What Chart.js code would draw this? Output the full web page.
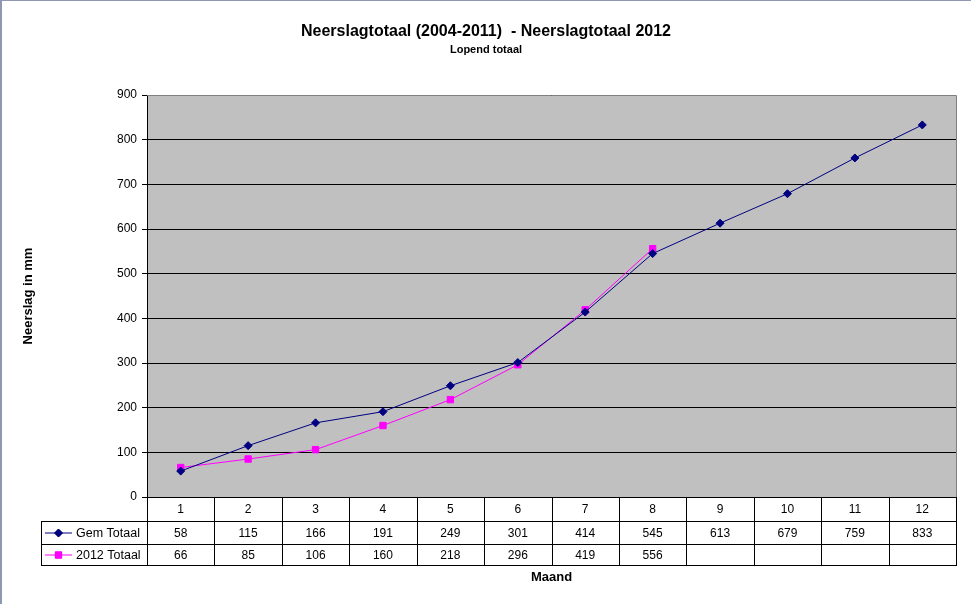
<!DOCTYPE html>
<html>
<head>
<meta charset="utf-8">
<script src="https://cdn.jsdelivr.net/npm/chart.js@4/dist/chart.umd.min.js"></script>
<style>
  html, body { margin: 0; padding: 0; background: #fff; }
  #wrap { width: 971px; height: 604px; position: relative; }
</style>
</head>
<body>
<div id="wrap"><canvas id="chart" width="971" height="604"></canvas></div>
<script>
// Gegevens
const maanden = ['1', '2', '3', '4', '5', '6', '7', '8', '9', '10', '11', '12'];
const gemTotaal = [58, 115, 166, 191, 249, 301, 414, 545, 613, 679, 759, 833];
const totaal2012 = [66, 85, 106, 160, 218, 296, 419, 556, null, null, null, null];
const reeksNamen = ['Gem Totaal', '2012 Totaal'];
const titel = 'Neerslagtotaal (2004-2011)  - Neerslagtotaal 2012';
const subtitel = 'Lopend totaal';
const yTitel = 'Neerslag in mm';
const xTitel = 'Maand';

const FONT = "'Liberation Sans', Arial, sans-serif";
const NAVY = '#000080';
const MAGENTA = '#FF00FF';

// Plugin voor achtergrond, titels en de datatabel
const excelLook = {
    id: 'excelLook',
    beforeDraw(chart) {
        const ctx = chart.ctx;
        const a = chart.chartArea;
        ctx.save();
        ctx.fillStyle = '#ffffff';
        ctx.fillRect(0, 0, chart.width, chart.height);
        // rand links en boven
        ctx.fillStyle = '#8E98B2';
        ctx.fillRect(0, 0, 2, chart.height);
        ctx.fillRect(0, 0, chart.width, 1);
        // grijs tekengebied
        ctx.fillStyle = '#C0C0C0';
        ctx.fillRect(a.left, a.top, a.right - a.left, a.bottom - a.top);
        ctx.restore();
    },
    afterDraw(chart) {
        const ctx = chart.ctx;
        const a = chart.chartArea;
        const x = chart.scales.x;
        ctx.save();

        // rand tekengebied boven en rechts
        ctx.strokeStyle = '#808080';
        ctx.lineWidth = 1;
        ctx.beginPath();
        ctx.moveTo(a.left, a.top + 0.5);
        ctx.lineTo(a.right + 0.5, a.top + 0.5);
        ctx.lineTo(a.right + 0.5, a.bottom);
        ctx.stroke();

        // titels
        ctx.fillStyle = '#000';
        ctx.textAlign = 'center';
        ctx.textBaseline = 'middle';
        ctx.font = 'bold 16px ' + FONT;
        ctx.fillText(titel, 486, 32);
        ctx.font = 'bold 11px ' + FONT;
        ctx.fillText(subtitel, 486, 50);
        ctx.font = 'bold 13px ' + FONT;
        ctx.fillText(xTitel, (a.left + a.right) / 2, 577);
        ctx.save();
        ctx.translate(28, (a.top + a.bottom) / 2);
        ctx.rotate(-Math.PI / 2);
        ctx.fillText(yTitel, 0, 0);
        ctx.restore();

        // datatabel
        const colW = x.getPixelForValue(1) - x.getPixelForValue(0);
        const rows = [a.bottom, 521, 544, 565];
        const legendLeft = 41;
        ctx.strokeStyle = '#000';
        ctx.lineWidth = 1;
        ctx.beginPath();
        for (let r = 1; r < rows.length; r++) {
            ctx.moveTo(legendLeft, rows[r] + 0.5);
            ctx.lineTo(a.right + 1, rows[r] + 0.5);
        }
        ctx.moveTo(legendLeft + 0.5, rows[1]);
        ctx.lineTo(legendLeft + 0.5, rows[3] + 1);
        for (let i = 0; i <= maanden.length; i++) {
            const xx = Math.round(x.getPixelForValue(0) - colW / 2 + i * colW) + 0.5;
            ctx.moveTo(xx, rows[0]);
            ctx.lineTo(xx, rows[3] + 1);
        }
        ctx.stroke();

        ctx.font = '12px ' + FONT;
        ctx.textAlign = 'center';
        const reeksen = [gemTotaal, totaal2012];
        maanden.forEach((m, i) => {
            const cx = x.getPixelForValue(i);
            ctx.fillText(m, cx, (rows[0] + rows[1]) / 2 + 1);
            reeksen.forEach((s, j) => {
                if (s[i] !== null) ctx.fillText(String(s[i]), cx, (rows[j + 1] + rows[j + 2]) / 2 + 1);
            });
        });

        // legendasleutels
        ctx.font = '12.5px ' + FONT;
        chart.data.datasets.forEach((ds, j) => {
            const cy = (rows[j + 1] + rows[j + 2]) / 2 + 0.5;
            ctx.strokeStyle = ds.borderColor;
            ctx.beginPath();
            ctx.moveTo(45, cy);
            ctx.lineTo(72, cy);
            ctx.stroke();
            Chart.helpers.drawPoint(ctx, {
                pointStyle: ds.pointStyle, radius: ds.pointRadius, borderWidth: 1
            }, 58.5, cy);
            ctx.fillStyle = ds.borderColor;
            ctx.fill();
            ctx.fillStyle = '#000';
            ctx.textAlign = 'left';
            ctx.fillText(reeksNamen[j], 76, cy + 0.5);
        });
        ctx.restore();
    }
};

new Chart(document.getElementById('chart'), {
    type: 'line',
    data: {
        labels: maanden,
        datasets: [
            {
                label: reeksNamen[0],
                data: gemTotaal,
                borderColor: NAVY,
                backgroundColor: NAVY,
                borderWidth: 1,
                pointStyle: 'rectRot',
                pointRadius: 4,
                pointBorderWidth: 1,
                tension: 0
            },
            {
                label: reeksNamen[1],
                data: totaal2012,
                borderColor: MAGENTA,
                backgroundColor: MAGENTA,
                borderWidth: 1,
                pointStyle: 'rect',
                pointRadius: 4.5,
                pointBorderWidth: 1,
                tension: 0,
                spanGaps: false
            }
        ]
    },
    options: {
        responsive: false,
        devicePixelRatio: 1,
        animation: false,
        layout: { padding: { left: 0, top: 95, right: 15, bottom: 107 } },
        plugins: {
            legend: { display: false },
            title: { display: false },
            tooltip: { enabled: false }
        },
        scales: {
            x: {
                type: 'category',
                offset: true,
                display: false
            },
            y: {
                min: 0,
                max: 900,
                afterFit(scale) { scale.width = 147; },
                ticks: {
                    stepSize: 100,
                    color: '#000',
                    font: { family: FONT, size: 12 },
                    padding: 5
                },
                grid: {
                    color: '#000',
                    lineWidth: 1,
                    tickLength: 5,
                    tickColor: '#000'
                },
                border: { display: true, color: '#000', width: 1 }
            }
        }
    },
    plugins: [excelLook]
});
</script>
</body>
</html>
